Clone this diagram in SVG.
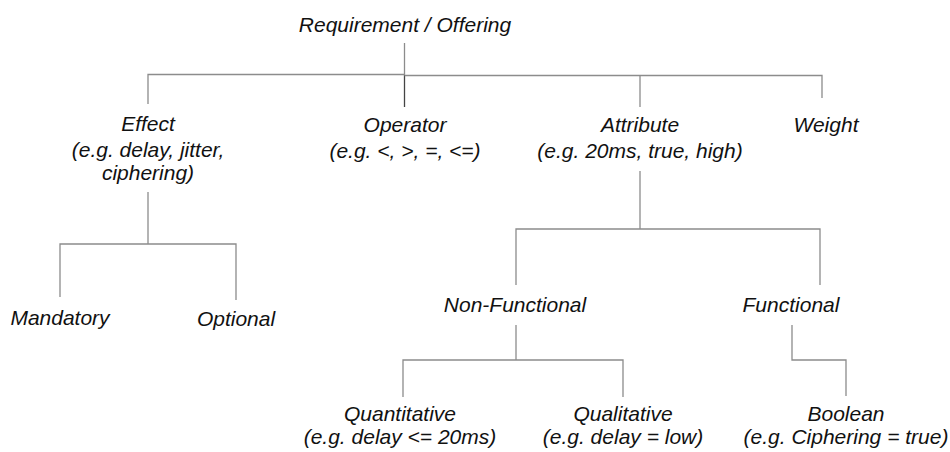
<svg xmlns="http://www.w3.org/2000/svg" width="950" height="452" viewBox="0 0 950 452">
  <style>
    text { font-family: "Liberation Sans", Arial, sans-serif; font-style: italic; font-size: 21px; fill: #111; text-anchor: middle; }
    .link { fill: none; stroke: #8c8c8c; stroke-width: 1.3; }
    .link.dark { stroke: #444; }
  </style>
  <rect width="950" height="452" fill="#ffffff"/>

  <!-- tree connectors -->
  <g id="connectors">
    <path class="link" d="M404.5 43 V75"/>
    <path class="link dark" d="M404.5 75 V107"/>
    <path class="link" d="M148 104 V74.5 H404.5"/>
    <path class="link" d="M404.5 75.5 H822 V98"/>
    <path class="link" d="M640 75.5 V107"/>
    <path class="link" d="M148 192 V244"/>
    <path class="link" d="M60 297 V244 H236 V300"/>
    <path class="link" d="M640 171 V229"/>
    <path class="link" d="M516 285 V229 H820 V285"/>
    <path class="link" d="M516 325 V360"/>
    <path class="link" d="M403 397 V360 H623 V397"/>
    <path class="link" d="M792 325 V360 H846 V396"/>
  </g>

  <g id="root"><text x="405" y="32">Requirement / Offering</text></g>
  <g id="effect">
    <text x="148" y="131">Effect</text>
    <text x="148" y="157">(e.g. delay, jitter,</text>
    <text x="148" y="180">ciphering)</text>
  </g>
  <g id="operator">
    <text x="405" y="132">Operator</text>
    <text x="405" y="158">(e.g. &lt;, &gt;, =, &lt;=)</text>
  </g>
  <g id="attribute">
    <text x="640" y="132">Attribute</text>
    <text x="640" y="158">(e.g. 20ms, true, high)</text>
  </g>
  <g id="weight"><text x="826" y="132">Weight</text></g>
  <g id="mandatory"><text x="60" y="325">Mandatory</text></g>
  <g id="optional"><text x="236" y="326">Optional</text></g>
  <g id="non-functional"><text x="515" y="312">Non-Functional</text></g>
  <g id="functional"><text x="791" y="312">Functional</text></g>
  <g id="quantitative">
    <text x="400" y="421">Quantitative</text>
    <text x="400" y="444">(e.g. delay &lt;= 20ms)</text>
  </g>
  <g id="qualitative">
    <text x="623" y="421">Qualitative</text>
    <text x="623" y="444">(e.g. delay = low)</text>
  </g>
  <g id="boolean">
    <text x="846" y="421">Boolean</text>
    <text x="846" y="444">(e.g. Ciphering = true)</text>
  </g>
</svg>
